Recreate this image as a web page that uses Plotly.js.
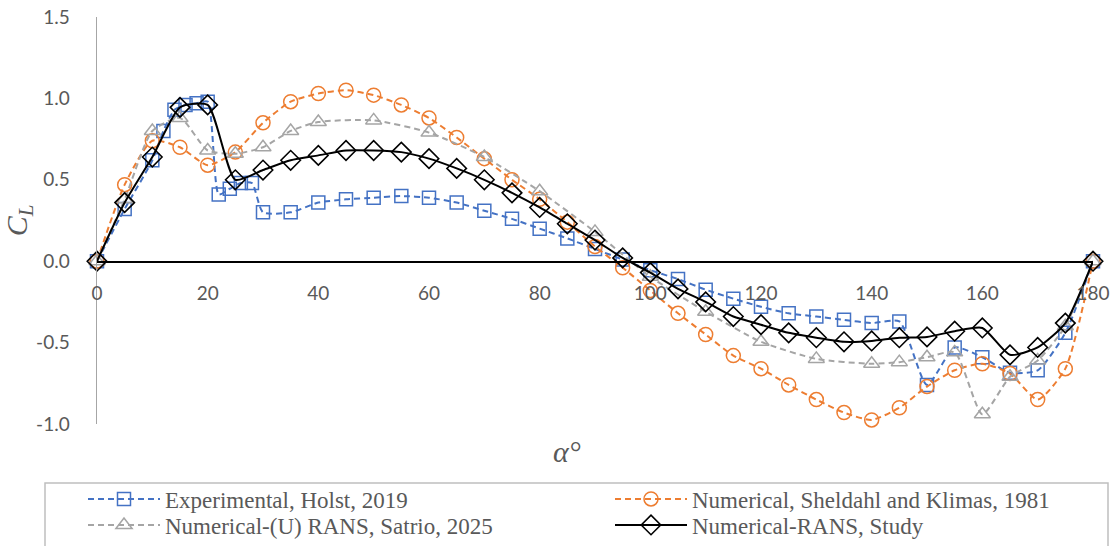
<!DOCTYPE html>
<html>
<head>
<meta charset="utf-8">
<script src="https://cdn.plot.ly/plotly-3.0.1.min.js"></script>
<style>html,body{margin:0;padding:0;background:#fff;}#chart{width:1112px;height:546px;}</style>
</head>
<body>
<div id="chart"></div>
<script>
// Experimental, Holst, 2019
const holstAlpha = [0,5,10,12,14,16,18,20,22,24,26,28,30,35,40,45,50,55,60,65,70,75,80,85,90,95,100,105,110,115,120,125,130,135,140,145,150,155,160,165,170,175,180];
const holstCL = [0,0.32,0.62,0.80,0.93,0.96,0.97,0.98,0.41,0.445,0.48,0.48,0.30,0.30,0.36,0.38,0.39,0.40,0.39,0.36,0.31,0.26,0.20,0.14,0.075,0.01,-0.055,-0.11,-0.175,-0.23,-0.28,-0.32,-0.34,-0.36,-0.38,-0.37,-0.76,-0.53,-0.59,-0.685,-0.67,-0.44,0];

// Numerical, Sheldahl and Klimas, 1981
const sheldahlAlpha = [0,5,10,15,20,25,30,35,40,45,50,55,60,65,70,75,80,85,90,95,100,105,110,115,120,125,130,135,140,145,150,155,160,165,170,175,180];
const sheldahlCL = [0,0.47,0.74,0.70,0.59,0.67,0.85,0.98,1.03,1.05,1.02,0.96,0.88,0.76,0.63,0.50,0.38,0.24,0.09,-0.04,-0.18,-0.32,-0.45,-0.58,-0.66,-0.76,-0.85,-0.93,-0.975,-0.90,-0.77,-0.67,-0.63,-0.69,-0.85,-0.66,0];

// Numerical-(U) RANS, Satrio, 2025
const satrioAlpha = [0,5,10,15,20,25,30,35,40,50,60,70,80,90,100,110,120,130,140,145,150,155,160,165,170,175,180];
const satrioCL = [0,0.38,0.80,0.88,0.68,0.66,0.70,0.80,0.855,0.865,0.79,0.64,0.43,0.18,-0.095,-0.31,-0.495,-0.60,-0.63,-0.62,-0.59,-0.56,-0.94,-0.71,-0.61,-0.40,0];

// Numerical-RANS, Study
const studyAlpha = [0,5,10,15,20,25,30,35,40,45,50,55,60,65,70,75,80,85,90,95,100,105,110,115,120,125,130,135,140,145,150,155,160,165,170,175,180];
const studyCL = [0,0.36,0.64,0.945,0.96,0.50,0.56,0.62,0.65,0.68,0.68,0.67,0.63,0.57,0.50,0.42,0.33,0.23,0.13,0.02,-0.07,-0.17,-0.25,-0.34,-0.39,-0.44,-0.47,-0.495,-0.49,-0.47,-0.465,-0.43,-0.41,-0.575,-0.53,-0.38,0];

const seriesNames = ["Experimental, Holst, 2019","Numerical, Sheldahl and Klimas, 1981","Numerical-(U) RANS, Satrio, 2025","Numerical-RANS, Study"];
const xTicks = [0,20,40,60,80,100,120,140,160,180];
const yTicks = [-1.0,-0.5,0.0,0.5,1.0,1.5];

const smooth = 0.6;
const traces = [
  {x: holstAlpha, y: holstCL, name: seriesNames[0], legend: 'legend', mode: 'lines+markers', cliponaxis: false,
   line: {color: '#4472C4', width: 2, dash: '6px,4px', shape: 'spline', smoothing: smooth},
   marker: {symbol: 'square-open', size: 13, color: '#4472C4', line: {width: 1.5}}},
  {x: sheldahlAlpha, y: sheldahlCL, name: seriesNames[1], legend: 'legend', mode: 'lines+markers', cliponaxis: false,
   line: {color: '#ED7D31', width: 2, dash: '6px,4px', shape: 'spline', smoothing: smooth},
   marker: {symbol: 'circle-open', size: 14, color: '#ED7D31', line: {width: 1.5}}},
  {x: satrioAlpha, y: satrioCL, name: seriesNames[2], legend: 'legend2', mode: 'lines+markers', cliponaxis: false,
   line: {color: '#A5A5A5', width: 2, dash: '6px,4px', shape: 'spline', smoothing: smooth},
   marker: {symbol: 'triangle-up-open', size: 14, color: '#A5A5A5', line: {width: 1.5}}},
  {x: studyAlpha, y: studyCL, name: seriesNames[3], legend: 'legend2', mode: 'lines+markers', cliponaxis: false,
   line: {color: '#000000', width: 2, shape: 'spline', smoothing: smooth},
   marker: {symbol: 'diamond-open', size: 15, color: '#000000', line: {width: 1.6}}}
];

const L = 97, T = 17, W = 996, H = 407;
const px = v => (v - L) / W;
const py = v => (T + H - v) / H;

const legendBase = {
  orientation: 'h', xanchor: 'left', yanchor: 'middle',
  bgcolor: 'rgba(0,0,0,0)', borderwidth: 0,
  font: {family: 'Liberation Serif, serif', size: 23, color: '#595959'},
  itemwidth: 72, entrywidth: 440, entrywidthmode: 'pixels',
  traceorder: 'normal'
};

const layout = {
  width: 1112, height: 546,
  margin: {l: 97, r: 19, t: 17, b: 122, autoexpand: false},
  paper_bgcolor: '#ffffff', plot_bgcolor: '#ffffff',
  showlegend: true,
  xaxis: {
    range: [0, 180], tickvals: xTicks, ticktext: xTicks.map(String),
    anchor: 'free', position: 0.4,
    showgrid: false, zeroline: false,
    showline: true, linecolor: '#000000', linewidth: 1.5,
    ticks: '', ticklabelstandoff: 14,
    tickfont: {family: 'Lato, Carlito, sans-serif', size: 19, color: '#595959'}
  },
  yaxis: {
    range: [-1, 1.5], tickvals: yTicks, ticktext: yTicks.map(v => v.toFixed(1)),
    showgrid: false, zeroline: false,
    showline: true, linecolor: '#A6A6A6', linewidth: 1.5,
    ticks: '', ticklabelstandoff: 22,
    tickfont: {family: 'Lato, Carlito, sans-serif', size: 19, color: '#595959'},
    title: {text: '<i>C<sub>L</sub></i>', standoff: 14,
            font: {family: 'Liberation Serif, serif', size: 30, color: '#595959'}}
  },
  shapes: [{
    type: 'rect', xref: 'paper', yref: 'paper',
    x0: px(45), x1: px(1108), y0: py(483), y1: py(560),
    line: {color: '#BFBFBF', width: 1.5}, fillcolor: 'rgba(0,0,0,0)', layer: 'below'
  }],
  annotations: [{
    text: '<i>α°</i>', xref: 'paper', yref: 'paper',
    x: px(567), y: py(452), xanchor: 'center', yanchor: 'middle',
    showarrow: false, font: {family: 'Liberation Serif, serif', size: 30, color: '#595959'}
  }],
  legend: Object.assign({}, legendBase, {x: px(83), y: py(499)}),
  legend2: Object.assign({}, legendBase, {x: px(83), y: py(525)})
};

Plotly.newPlot('chart', traces, layout, {displayModeBar: false, staticPlot: true});
</script>
</body>
</html>
